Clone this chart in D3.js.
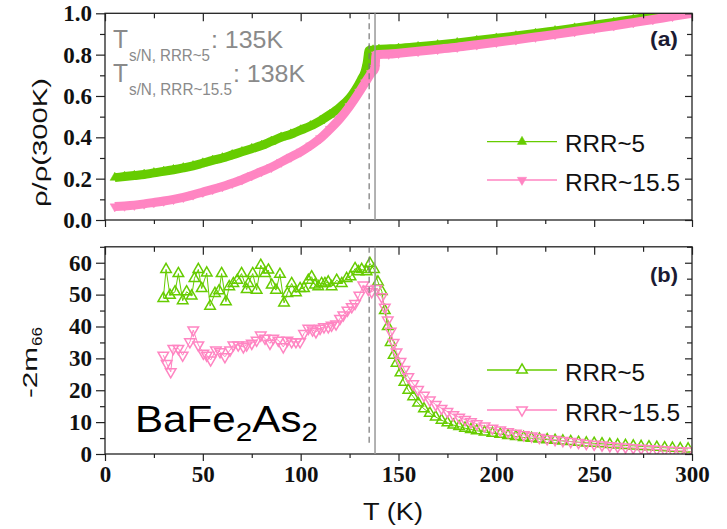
<!DOCTYPE html>
<html>
<head>
<meta charset="utf-8">
<script src="https://cdn.jsdelivr.net/npm/d3@7"></script>
<style>
  body { margin: 0; background: #fff; }
  svg { display: block; }
</style>
</head>
<body>
<svg width="727" height="529"></svg>
<script>
// resistivity, normalised to 300 K
const rhoTemp5 = [5, 10, 15, 20, 25, 30, 35, 40, 45, 50, 55, 60, 65, 70, 75, 80, 85, 90, 95, 100,
  105, 110, 115, 120, 125, 128, 131, 133, 134, 135, 137, 140, 150, 160, 170, 180, 190, 200,
  210, 220, 230, 240, 250, 260, 270, 280, 290, 300];
const rho5 = [0.205, 0.21, 0.215, 0.22, 0.228, 0.235, 0.243, 0.252, 0.262, 0.275, 0.288, 0.3,
  0.315, 0.33, 0.345, 0.36, 0.38, 0.4, 0.415, 0.435, 0.455, 0.48, 0.51, 0.545, 0.59, 0.63,
  0.68, 0.72, 0.76, 0.82, 0.822, 0.825, 0.83, 0.838, 0.847, 0.857, 0.868, 0.879, 0.89, 0.902,
  0.915, 0.928, 0.942, 0.956, 0.97, 0.985, 0.998, 1.01];

const rhoTemp15 = [5, 10, 15, 20, 25, 30, 35, 40, 45, 50, 55, 60, 65, 70, 75, 80, 85, 90, 95, 100,
  105, 110, 115, 120, 125, 130, 133, 136, 138, 138.5, 145, 150, 160, 170, 180, 190, 200, 210,
  220, 230, 240, 250, 260, 270, 280, 290, 300];
const rho15 = [0.065, 0.068, 0.072, 0.078, 0.085, 0.092, 0.1, 0.11, 0.122, 0.135, 0.148, 0.162,
  0.178, 0.195, 0.215, 0.235, 0.255, 0.28, 0.305, 0.33, 0.36, 0.395, 0.44, 0.49, 0.55, 0.62,
  0.665, 0.71, 0.735, 0.8, 0.803, 0.807, 0.816, 0.826, 0.836, 0.848, 0.86, 0.872, 0.885, 0.898,
  0.912, 0.926, 0.94, 0.955, 0.97, 0.985, 1.0];

// elastoresistivity -2 m66
const mTemp5 = [29.8, 31.2, 33.2, 35.8, 37.5, 39.7, 41.7, 44.3, 45.7, 47.7, 49.4, 52, 53.7, 56.2,
  58.3, 59.6, 61.8, 63.5, 65.6, 67.6, 69.8, 72.4, 73.3, 75.5, 77.5, 79.6, 81.8, 83.5, 85.2,
  87.4, 89.4, 91.5, 93.2, 95.4, 97.6, 99.7, 101.7, 103.9, 105.6, 107.3, 109, 110.7, 112.4,
  114.1, 115.8, 118.4, 121, 123.5, 125.5, 127.8, 129.5, 131.2, 133.7, 135.4, 137.5, 139.5,
  141.5, 143, 144.5, 146, 147.5, 149, 151, 153, 155, 157.5, 160, 163, 166, 169, 172, 175, 178,
  181, 184, 187, 190, 194, 198, 202, 206, 210, 214, 218, 222, 226, 230, 234, 238, 242, 246,
  250, 254, 258, 262, 266, 270, 274, 278, 282, 286, 290, 294, 298];
const m5 = [48.8, 57.9, 49.8, 50.9, 56.6, 48.1, 50.9, 49.6, 55.1, 57.9, 51.9, 56.8, 46.4, 50.4,
  51.2, 56.6, 47.8, 52.5, 53.5, 54.5, 56.6, 51.6, 53.5, 56.6, 51.4, 59.2, 56.6, 57.7, 53,
  51.4, 56.4, 47.4, 50.4, 53.5, 50.6, 51.9, 51.9, 54.5, 55.6, 53, 52.5, 53.5, 53.5, 54, 52.5,
  54.5, 53.5, 55.1, 55.6, 58.2, 57.2, 57.9, 57.2, 59.8, 57.9, 54, 51, 45, 40, 35, 31, 28.5,
  25.5, 22.5, 20, 18, 16, 14.2, 12.8, 11.6, 10.6, 9.8, 9.1, 8.6, 8.1, 7.7, 7.3, 6.9, 6.5, 6.2,
  5.85, 5.5, 5.2, 4.95, 4.7, 4.5, 4.3, 4.1, 3.9, 3.7, 3.5, 3.35, 3.2, 3.0, 2.85, 2.7, 2.55,
  2.4, 2.25, 2.1, 1.95, 1.85, 1.7, 1.6];

const mTemp15 = [29.8, 31.5, 33.6, 34.9, 37.5, 39.7, 43.4, 45.1, 47.7, 50.3, 52, 54, 56.7, 58.8,
  61.3, 63.9, 65.6, 68.1, 70.7, 72.4, 75, 77.5, 79.6, 81.8, 84.3, 86, 88.6, 91.1, 93.2, 95.4,
  97.6, 99.7, 101.7, 103.9, 106.1, 107.8, 109.9, 111.9, 114.1, 115.8, 118.1, 120.1, 121.8,
  123.9, 126.1, 127.8, 130, 132, 134.6, 136.3, 138.8, 141.4, 143, 144.5, 146, 147.5, 149, 151,
  153, 155, 157.5, 160, 163, 166, 169, 172, 175, 178, 181, 184, 187, 190, 194, 198, 202, 206,
  210, 214, 218, 222, 226, 230, 234, 238, 242, 246, 250, 254, 258, 262, 266, 270, 274, 278,
  282, 286, 290, 294, 298];
const m15 = [31, 28.4, 25.8, 33.1, 33.1, 31, 35.2, 38.9, 34.2, 31.6, 31, 29.5, 32.6, 32.1, 30.5,
  32.6, 34.2, 34.2, 33.6, 34.2, 34.7, 35.7, 37.3, 36.3, 34.7, 36.3, 35.7, 33.6, 35.7, 35.2,
  35.2, 35.2, 37.8, 39.4, 38.9, 38.3, 39.4, 39.9, 39.9, 40.4, 40.8, 42.5, 43.6, 45.1, 46.2,
  47.2, 49.8, 53, 51.6, 50.9, 51.9, 49.3, 46, 42, 38.5, 35, 32, 29, 26.5, 24.2, 22, 20.2, 18.4,
  16.9, 15.5, 14.3, 13.3, 12.3, 11.5, 10.8, 10.1, 9.5, 8.8, 8.1, 7.5, 7.0, 6.5, 6.0, 5.6, 5.2,
  4.8, 4.5, 4.2, 3.9, 3.6, 3.3, 3.05, 2.8, 2.55, 2.35, 2.15, 1.95, 1.8, 1.6, 1.45, 1.3, 1.15,
  1.0, 0.9];

const seriesNames = ["RRR~5", "RRR~15.5"];
const seriesColors = ["#66cc00", "#ff85c2"];
const transitionTemps = [135, 138];
const xTickValues = [0, 50, 100, 150, 200, 250, 300];
const rhoTickValues = [0, 0.2, 0.4, 0.6, 0.8, 1.0];
const mTickValues = [0, 10, 20, 30, 40, 50, 60];

const svg = d3.select("svg");
const serif = "Liberation Serif";
const sans = "Liberation Sans";
const grey = "#8a8a8a";
const axisColor = "#222";

const x = d3.scaleLinear().domain([0, 300]).range([105, 692]);
const yTop = d3.scaleLinear().domain([0, 1]).range([220, 13.3]);
const yBot = d3.scaleLinear().domain([0, 65]).range([454, 246.8]);

function zip(xs, ys) {
  return xs.map((t, i) => [t, ys[i]]);
}

function range(a, b, step) {
  return d3.range(a, b + step / 2, step);
}

// plain text squeezed/stretched to a given width
function label(parent, str, px, py, size, width, opts = {}) {
  return parent.append("text")
    .attr("x", px).attr("y", py)
    .attr("font-family", opts.family || sans)
    .attr("font-size", size)
    .attr("font-weight", opts.weight || "normal")
    .attr("fill", opts.fill || "#111")
    .attr("textLength", width)
    .attr("lengthAdjust", "spacingAndGlyphs")
    .text(str);
}

// ticks on all four sides: outward on left/bottom, inward on top/right
function frame(y, majorY, minorY, labelY, showX) {
  const [y0, y1] = y.range();
  const g = svg.append("g").attr("class", "frame");

  const addAxis = (axis, transform) => {
    const a = g.append("g").attr("transform", transform).call(axis);
    a.select(".domain").remove();
    a.attr("font-family", serif).attr("font-weight", "bold").attr("font-size", 23);
    a.selectAll("line").attr("stroke", axisColor).attr("stroke-width", 1.2);
    a.selectAll("text").attr("fill", "#111");
    return a;
  };

  const minorX = range(25, 275, 50);

  addAxis(
    d3.axisBottom(x).tickValues(xTickValues).tickSize(7).tickPadding(5)
      .tickFormat(showX ? d3.format("d") : () => ""),
    `translate(0,${y0})`);
  addAxis(d3.axisBottom(x).tickValues(minorX).tickSize(4).tickFormat(""), `translate(0,${y0})`);
  addAxis(d3.axisTop(x).tickValues(xTickValues).tickSize(-8).tickFormat(""), `translate(0,${y1})`);
  addAxis(d3.axisTop(x).tickValues(minorX).tickSize(-5).tickFormat(""), `translate(0,${y1})`);

  addAxis(
    d3.axisLeft(y).tickValues(majorY).tickSize(9).tickPadding(4).tickFormat(labelY),
    `translate(${x.range()[0]},0)`);
  addAxis(d3.axisLeft(y).tickValues(minorY).tickSize(5).tickFormat(""), `translate(${x.range()[0]},0)`);
  addAxis(d3.axisRight(y).tickValues(majorY).tickSize(-7).tickFormat(""), `translate(${x.range()[1]},0)`);
  addAxis(d3.axisRight(y).tickValues(minorY).tickSize(-5).tickFormat(""), `translate(${x.range()[1]},0)`);

  g.append("rect")
    .attr("x", x.range()[0]).attr("y", y1)
    .attr("width", x.range()[1] - x.range()[0]).attr("height", y0 - y1)
    .attr("fill", "none").attr("stroke", axisColor).attr("stroke-width", 1.3);

  // structural transition markers
  g.append("line")
    .attr("x1", x(transitionTemps[0])).attr("x2", x(transitionTemps[0]))
    .attr("y1", y1).attr("y2", y0 - 10)
    .attr("stroke", "#777").attr("stroke-width", 1.2).attr("stroke-dasharray", "6,4");
  g.append("line")
    .attr("x1", x(transitionTemps[1])).attr("x2", x(transitionTemps[1]))
    .attr("y1", y1).attr("y2", y0)
    .attr("stroke", "#999").attr("stroke-width", 1.5);
}

function clip(id, y) {
  svg.append("clipPath").attr("id", id)
    .append("rect")
    .attr("x", x.range()[0]).attr("y", y.range()[1])
    .attr("width", x.range()[1] - x.range()[0])
    .attr("height", y.range()[0] - y.range()[1]);
}

const triSmall = d3.symbol(d3.symbolTriangle, 38);
const triOpen = d3.symbol(d3.symbolTriangle, 48);

function markers(g, pts, y, color, up, filled) {
  g.selectAll(null).data(pts).join("path")
    .attr("d", filled ? triSmall : triOpen)
    .attr("transform", d => `translate(${x(d[0])},${y(d[1])})${up ? "" : " rotate(180)"}`)
    .attr("fill", filled ? color : "none")
    .attr("stroke", color)
    .attr("stroke-width", filled ? 0.5 : 1.5);
}

const legendWidths = [80, 115];

function legend(entries, x0, ys, filled) {
  entries.forEach((e, i) => {
    const g = svg.append("g");
    g.append("line")
      .attr("x1", x0).attr("x2", x0 + 70)
      .attr("y1", ys[i]).attr("y2", ys[i])
      .attr("stroke", e.color).attr("stroke-width", 1.3);
    g.append("path")
      .attr("d", filled ? triSmall : triOpen)
      .attr("transform", `translate(${x0 + 35},${ys[i]})${e.up ? "" : " rotate(180)"}`)
      .attr("fill", filled ? e.color : "#fff")
      .attr("stroke", e.color).attr("stroke-width", filled ? 0.5 : 1.5);
    label(g, e.name, x0 + 78, ys[i] + 10.5, 23, legendWidths[i]);
  });
}

// ---------- panel (a): resistivity ----------
clip("clipTop", yTop);
const rhoSeries = [
  { pts: zip(rhoTemp5, rho5), color: seriesColors[0], up: true, name: seriesNames[0] },
  { pts: zip(rhoTemp15, rho15), color: seriesColors[1], up: false, name: seriesNames[1] },
];
const topData = svg.append("g").attr("clip-path", "url(#clipTop)");
const rhoLine = d3.line().x(d => x(d[0])).y(d => yTop(d[1])).curve(d3.curveMonotoneX);
rhoSeries.forEach(s => {
  const g = topData.append("g");
  g.append("path").attr("d", rhoLine(s.pts))
    .attr("fill", "none").attr("stroke", s.color).attr("stroke-width", 9);
  markers(g, s.pts, yTop, s.color, s.up, true);
});

frame(yTop, rhoTickValues, range(0.1, 0.9, 0.2), d3.format(".1f"), false);

// transition temperatures
const ann = svg.append("g");
const annGrey = { fill: grey };
label(ann, "T", 113, 48, 25, 15, annGrey);
label(ann, "s/N, RRR~5", 129, 61, 16, 81, annGrey);
label(ann, ": 135K", 211, 48, 24, 72, annGrey);
label(ann, "T", 113, 82, 25, 15, annGrey);
label(ann, "s/N, RRR~15.5", 129, 95, 16, 103, annGrey);
label(ann, ": 138K", 233, 82, 24, 72, annGrey);

label(svg, "(a)", 650, 46, 20, 28, { weight: "bold", fill: "#1b1b33" });

legend(rhoSeries, 487, [141.7, 180], true);

// ---------- panel (b): -2m66 ----------
clip("clipBot", yBot);
const mSeries = [
  { pts: zip(mTemp5, m5), color: seriesColors[0], up: true, name: seriesNames[0] },
  { pts: zip(mTemp15, m15), color: seriesColors[1], up: false, name: seriesNames[1] },
];
const botData = svg.append("g").attr("clip-path", "url(#clipBot)");
const mLine = d3.line().x(d => x(d[0])).y(d => yBot(d[1]));
mSeries.forEach(s => {
  const g = botData.append("g");
  g.append("path").attr("d", mLine(s.pts))
    .attr("fill", "none").attr("stroke", s.color).attr("stroke-width", 1);
  markers(g, s.pts, yBot, s.color, s.up, false);
});

frame(yBot, mTickValues, range(5, 65, 10), d3.format("d"), true);

label(svg, "(b)", 650, 282, 20, 28, { weight: "bold", fill: "#1b1b33" });

legend(mSeries, 487, [370, 410], false);

// compound label
const comp = svg.append("text")
  .attr("transform", "translate(135,432) scale(1.14,1)")
  .attr("font-family", sans).attr("font-size", 37).attr("fill", "#000");
comp.append("tspan").text("BaFe");
comp.append("tspan").attr("font-size", 26).attr("dy", 9).text("2");
comp.append("tspan").attr("dy", -9).text("As");
comp.append("tspan").attr("font-size", 26).attr("dy", 9).text("2");

// axis titles
const rhoTitle = svg.append("g").attr("transform", "translate(47,207) rotate(-90)");
label(rhoTitle, "ρ/ρ(300K)", 0, 0, 20, 129);

const mTitle = svg.append("g").attr("transform", "translate(37,398) rotate(-90)");
label(mTitle, "-2m", 0, 0, 21, 51);
label(mTitle, "66", 52, 5, 14, 19);

label(svg, "T (K)", 363, 520, 23, 60);
</script>
</body>
</html>
